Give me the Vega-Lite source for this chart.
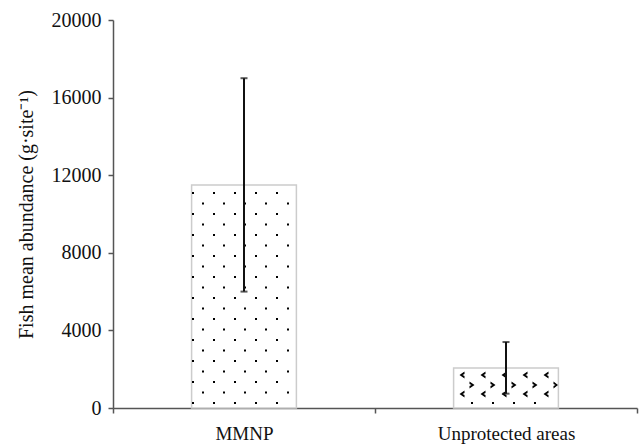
{
  "$schema": "https://vega.github.io/schema/vega-lite/v6.json",
  "width": 524,
  "height": 388,
  "autosize": {"type": "none"},
  "padding": {"left": 113, "top": 20, "right": 5, "bottom": 37},
  "background": "white",
  "config": {
    "view": {"stroke": null},
    "font": "Liberation Serif"
  },
  "data": {
    "values": [
      {"site": "MMNP", "mean": 11500, "lo": 6000, "hi": 17000},
      {"site": "Unprotected areas", "mean": 2060, "lo": 740, "hi": 3400}
    ]
  },
  "encoding": {
    "x": {
      "field": "site",
      "type": "nominal",
      "sort": null,
      "scale": {"paddingInner": 0, "paddingOuter": 0},
      "axis": {
        "title": null,
        "labelAngle": 0,
        "labelFont": "Liberation Serif",
        "labelFontSize": 19,
        "labelColor": "#111",
        "labelPadding": 11,
        "domainColor": "#555",
        "domainWidth": 1.5,
        "tickColor": "#555",
        "tickWidth": 1.5,
        "tickSize": 5,
        "tickBand": "extent",
        "grid": false
      }
    }
  },
  "layer": [
    {
      "mark": {"type": "bar", "fill": "white", "stroke": "#cccccc", "strokeWidth": 1.5, "width": {"band": 0.4}},
      "encoding": {
        "y": {
          "field": "mean",
          "type": "quantitative",
          "scale": {"domain": [0, 20000], "nice": false},
          "axis": {
            "title": "Fish mean abundance (g·site⁻¹)",
            "titleFont": "Liberation Serif",
            "titleFontSize": 20,
            "titleFontWeight": "normal",
            "titleColor": "#111",
            "titlePadding": 15,
            "values": [0, 4000, 8000, 12000, 16000, 20000],
            "format": "d",
            "labelFont": "Liberation Serif",
            "labelFontSize": 20,
            "labelColor": "#111",
            "labelPadding": 7,
            "domainColor": "#555",
            "domainWidth": 1.5,
            "tickColor": "#555",
            "tickWidth": 1.5,
            "tickSize": 5,
            "grid": false
          }
        }
      }
    },
    {
      "mark": {"type": "point", "filled": true, "fill": "#000", "stroke": null, "strokeWidth": 0, "opacity": 1, "size": 4},
      "encoding": {
        "y": {"datum": 0, "type": "quantitative"},
        "shape": {
          "field": "site",
          "type": "nominal",
          "legend": null,
          "scale": {
            "domain": ["MMNP", "Unprotected areas"],
            "range": [
              "M-52 -216h2v2h-2zM-31 -216h2v2h-2zM-10 -216h2v2h-2zM11 -216h2v2h-2zM32 -216h2v2h-2zM-42 -205.5h2v2h-2zM-21 -205.5h2v2h-2zM0 -205.5h2v2h-2zM21 -205.5h2v2h-2zM43 -205.5h2v2h-2zM-52 -195h2v2h-2zM-31 -195h2v2h-2zM-10 -195h2v2h-2zM11 -195h2v2h-2zM32 -195h2v2h-2zM-42 -184.5h2v2h-2zM-21 -184.5h2v2h-2zM0 -184.5h2v2h-2zM21 -184.5h2v2h-2zM43 -184.5h2v2h-2zM-52 -174h2v2h-2zM-31 -174h2v2h-2zM-10 -174h2v2h-2zM11 -174h2v2h-2zM32 -174h2v2h-2zM-42 -163.5h2v2h-2zM-21 -163.5h2v2h-2zM0 -163.5h2v2h-2zM21 -163.5h2v2h-2zM43 -163.5h2v2h-2zM-52 -153h2v2h-2zM-31 -153h2v2h-2zM-10 -153h2v2h-2zM11 -153h2v2h-2zM32 -153h2v2h-2zM-42 -142.5h2v2h-2zM-21 -142.5h2v2h-2zM0 -142.5h2v2h-2zM21 -142.5h2v2h-2zM43 -142.5h2v2h-2zM-52 -132h2v2h-2zM-31 -132h2v2h-2zM-10 -132h2v2h-2zM11 -132h2v2h-2zM32 -132h2v2h-2zM-42 -121.5h2v2h-2zM-21 -121.5h2v2h-2zM0 -121.5h2v2h-2zM21 -121.5h2v2h-2zM43 -121.5h2v2h-2zM-52 -111h2v2h-2zM-31 -111h2v2h-2zM-10 -111h2v2h-2zM11 -111h2v2h-2zM32 -111h2v2h-2zM-42 -100.5h2v2h-2zM-21 -100.5h2v2h-2zM0 -100.5h2v2h-2zM21 -100.5h2v2h-2zM43 -100.5h2v2h-2zM-52 -90h2v2h-2zM-31 -90h2v2h-2zM-10 -90h2v2h-2zM11 -90h2v2h-2zM32 -90h2v2h-2zM-42 -79.5h2v2h-2zM-21 -79.5h2v2h-2zM0 -79.5h2v2h-2zM21 -79.5h2v2h-2zM43 -79.5h2v2h-2zM-52 -69h2v2h-2zM-31 -69h2v2h-2zM-10 -69h2v2h-2zM11 -69h2v2h-2zM32 -69h2v2h-2zM-42 -58.5h2v2h-2zM-21 -58.5h2v2h-2zM0 -58.5h2v2h-2zM21 -58.5h2v2h-2zM43 -58.5h2v2h-2zM-52 -48h2v2h-2zM-31 -48h2v2h-2zM-10 -48h2v2h-2zM11 -48h2v2h-2zM32 -48h2v2h-2zM-42 -37.5h2v2h-2zM-21 -37.5h2v2h-2zM0 -37.5h2v2h-2zM21 -37.5h2v2h-2zM43 -37.5h2v2h-2zM-52 -27h2v2h-2zM-31 -27h2v2h-2zM-10 -27h2v2h-2zM11 -27h2v2h-2zM32 -27h2v2h-2zM-42 -16.5h2v2h-2zM-21 -16.5h2v2h-2zM0 -16.5h2v2h-2zM21 -16.5h2v2h-2zM43 -16.5h2v2h-2zM-52 -6h2v2h-2zM-31 -6h2v2h-2zM-10 -6h2v2h-2zM11 -6h2v2h-2zM32 -6h2v2h-2z",
              "M-41.5 -36.5L-46.5 -33L-41.5 -29.5L-41.5 -32L-43.5 -33L-41.5 -34ZM-20.5 -36.5L-25.5 -33L-20.5 -29.5L-20.5 -32L-22.5 -33L-20.5 -34ZM0.5 -36.5L-4.5 -33L0.5 -29.5L0.5 -32L-1.5 -33L0.5 -34ZM21.5 -36.5L16.5 -33L21.5 -29.5L21.5 -32L19.5 -33L21.5 -34ZM42.5 -36.5L37.5 -33L42.5 -29.5L42.5 -32L40.5 -33L42.5 -34ZM-36.5 -26.5L-31.5 -23L-36.5 -19.5L-36.5 -22L-34.5 -23L-36.5 -24ZM-15.5 -26.5L-10.5 -23L-15.5 -19.5L-15.5 -22L-13.5 -23L-15.5 -24ZM5.5 -26.5L10.5 -23L5.5 -19.5L5.5 -22L7.5 -23L5.5 -24ZM26.5 -26.5L31.5 -23L26.5 -19.5L26.5 -22L28.5 -23L26.5 -24ZM47.5 -26.5L52 -23L47.5 -19.5L47.5 -22L49.5 -23L47.5 -24ZM-41.5 -17.5L-46.5 -14L-41.5 -10.5L-41.5 -13L-43.5 -14L-41.5 -15ZM-20.5 -17.5L-25.5 -14L-20.5 -10.5L-20.5 -13L-22.5 -14L-20.5 -15ZM0.5 -17.5L-4.5 -14L0.5 -10.5L0.5 -13L-1.5 -14L0.5 -15ZM21.5 -17.5L16.5 -14L21.5 -10.5L21.5 -13L19.5 -14L21.5 -15ZM42.5 -17.5L37.5 -14L42.5 -10.5L42.5 -13L40.5 -14L42.5 -15ZM-35 -6h2v2h-2zM-14 -6h2v2h-2zM7 -6h2v2h-2zM28 -6h2v2h-2z"
            ]
          }
        }
      }
    },
    {
      "mark": {"type": "rule", "color": "#111", "strokeWidth": 2},
      "encoding": {
        "y": {"field": "lo", "type": "quantitative"},
        "y2": {"field": "hi"}
      }
    },
    {
      "mark": {"type": "tick", "color": "#111", "thickness": 2, "size": 7},
      "encoding": {
        "y": {"field": "hi", "type": "quantitative"}
      }
    },
    {
      "mark": {"type": "tick", "color": "#111", "thickness": 2, "size": 7},
      "encoding": {
        "y": {"field": "lo", "type": "quantitative"}
      }
    }
  ]
}
